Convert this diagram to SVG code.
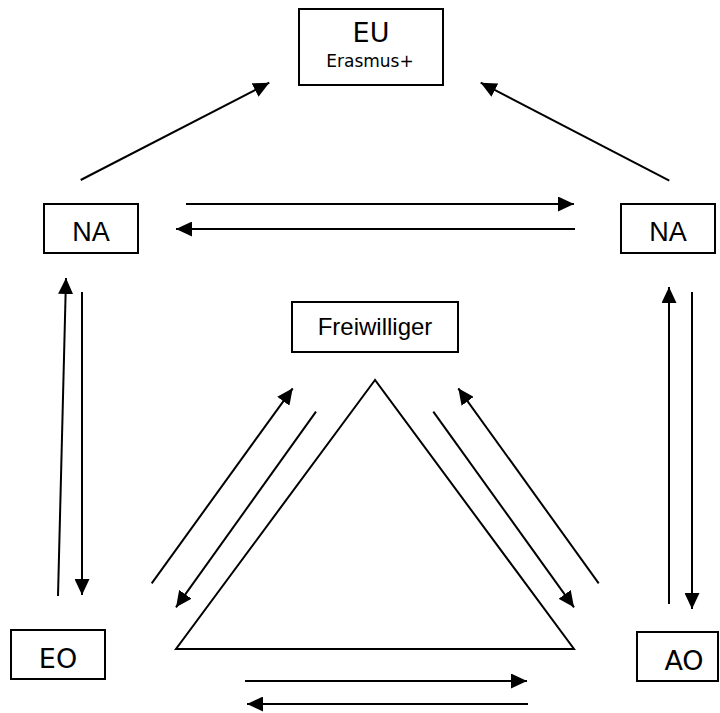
<svg xmlns="http://www.w3.org/2000/svg" width="720" height="713" viewBox="0 0 720 713">
<defs>
<marker id="ah" markerUnits="userSpaceOnUse" markerWidth="16" markerHeight="15" refX="16" refY="7.5" orient="auto">
<path d="M0,0 L16,7.5 L0,15 z" fill="#000"/>
</marker>
<style>
.box{fill:#fff;stroke:#000;stroke-width:2}
.ln{fill:none;stroke:#000;stroke-width:2}
.ar{fill:none;stroke:#000;stroke-width:2;marker-end:url(#ah)}
.v{font-family:"DejaVu Sans",Verdana,sans-serif;fill:#000;text-anchor:middle}
.a{font-family:"Liberation Sans",Arial,sans-serif;fill:#000;text-anchor:middle}
</style>
</defs>
<rect width="720" height="713" fill="#fff"/>
<g id="connectors">
<line class="ar" x1="80.7" y1="180" x2="269.3" y2="82.7"/>
<line class="ar" x1="669.3" y1="180.7" x2="480.7" y2="82.7"/>
<line class="ar" x1="186" y1="204" x2="574" y2="204"/>
<line class="ar" x1="575" y1="229" x2="176" y2="229"/>
<line class="ar" x1="58" y1="596" x2="66" y2="278"/>
<line class="ar" x1="82" y1="292" x2="82" y2="595"/>
<line class="ar" x1="669" y1="604" x2="669" y2="287"/>
<line class="ar" x1="692" y1="292" x2="692" y2="609"/>
<line class="ar" x1="151.7" y1="583.3" x2="292.7" y2="388.3"/>
<line class="ar" x1="316" y1="411.7" x2="176" y2="607.3"/>
<line class="ar" x1="433.3" y1="411.7" x2="574" y2="607.3"/>
<line class="ar" x1="598.7" y1="583.3" x2="458.3" y2="388.3"/>
<line class="ar" x1="245" y1="681" x2="527" y2="681"/>
<line class="ar" x1="528" y1="704" x2="247" y2="704"/>
</g>
<g id="triangle">
<polygon class="ln" points="375,380 176,649 574,649"/>
</g>
<g id="eu">
<rect class="box" x="299" y="9" width="144" height="76"/>
<text class="v" x="371" y="42" font-size="27">EU</text>
<text class="v" x="370" y="67" font-size="17">Erasmus+</text>
</g>
<g id="na-left">
<rect class="box" x="44" y="204" width="94" height="49"/>
<text class="a" x="91" y="241" font-size="27">NA</text>
</g>
<g id="na-right">
<rect class="box" x="621" y="204" width="94" height="49"/>
<text class="a" x="668" y="241" font-size="27">NA</text>
</g>
<g id="freiwilliger">
<rect class="box" x="292" y="302" width="166" height="50"/>
<text class="a" x="375" y="335" font-size="24">Freiwilliger</text>
</g>
<g id="eo">
<rect class="box" x="11" y="630" width="94" height="49"/>
<text class="v" x="58" y="668" font-size="27">EO</text>
</g>
<g id="ao">
<rect class="box" x="637" y="632" width="81" height="49"/>
<text class="v" x="684" y="670" font-size="27">AO</text>
</g>
</svg>
